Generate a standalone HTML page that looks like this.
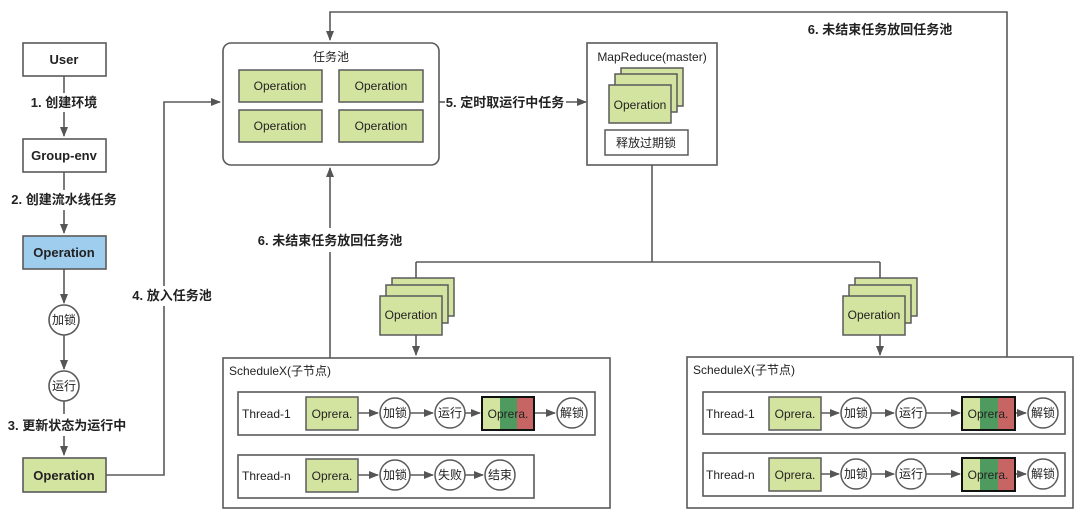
<!DOCTYPE html>
<html><head><meta charset="utf-8"><style>
html,body{margin:0;padding:0;background:#fff;width:1080px;height:512px;overflow:hidden}
svg{display:block}
text{font-family:"Liberation Sans","Noto Sans CJK SC",sans-serif;fill:#222}
.b{font-weight:bold;font-size:13px}
.n{font-size:12px}
</style></head><body>
<svg width="1080" height="512" viewBox="0 0 1080 512" xmlns="http://www.w3.org/2000/svg">
<defs>
<marker id="a" markerWidth="10" markerHeight="8" refX="9" refY="4" orient="auto" markerUnits="userSpaceOnUse">
<path d="M0,0 L10,4 L0,8 z" fill="#555"/></marker>
</defs>
<g stroke="#5a5a5a" stroke-width="1.6" fill="none">
<!-- left column -->
<line x1="64" y1="76" x2="64" y2="93"/><line x1="64" y1="112" x2="64" y2="136" marker-end="url(#a)"/>
<line x1="64" y1="172" x2="64" y2="190"/><line x1="64" y1="210" x2="64" y2="233" marker-end="url(#a)"/>
<line x1="64" y1="269" x2="64" y2="303" marker-end="url(#a)"/>
<line x1="64" y1="335" x2="64" y2="369" marker-end="url(#a)"/>
<line x1="64" y1="401" x2="64" y2="414"/><line x1="64" y1="436" x2="64" y2="455" marker-end="url(#a)"/>
<polyline points="106,475 164,475 164,306"/><polyline points="164,286 164,102 220,102" marker-end="url(#a)"/>
<!-- 5 arrow -->
<line x1="439" y1="102" x2="445" y2="102"/><line x1="566" y1="102" x2="586" y2="102" marker-end="url(#a)"/>
<!-- top loop -->
<polyline points="1007,357 1007,12 330,12 330,40" marker-end="url(#a)"/>
<!-- left up -->
<line x1="330" y1="358" x2="330" y2="252"/><line x1="330" y1="228" x2="330" y2="168" marker-end="url(#a)"/>
<!-- mapreduce down -->
<polyline points="652,165 652,262"/><line x1="416" y1="262" x2="880" y2="262"/>
<line x1="416" y1="262" x2="416" y2="284"/><line x1="880" y1="262" x2="880" y2="284"/>
<line x1="416" y1="335" x2="416" y2="355" marker-end="url(#a)"/>
<line x1="880" y1="335" x2="880" y2="355" marker-end="url(#a)"/>
</g>
<!-- left nodes -->
<g stroke="#5a5a5a" stroke-width="1.6">
<rect x="23" y="43" width="83" height="33" fill="#fff"/>
<rect x="23" y="139" width="83" height="33" fill="#fff"/>
<rect x="23" y="236" width="83" height="33" fill="#9ecdee"/>
<circle cx="64" cy="320" r="15" fill="#fff"/>
<circle cx="64" cy="386" r="15" fill="#fff"/>
<rect x="23" y="458" width="83" height="34" fill="#d3e3a0"/>
</g>
<g class="b" text-anchor="middle">
<text x="64" y="64">User</text>
<text x="64" y="160">Group-env</text>
<text x="64" y="257">Operation</text>
<text x="64" y="480">Operation</text>
<text x="64" y="107">1. 创建环境</text>
<text x="64" y="204">2. 创建流水线任务</text>
<text x="67" y="430">3. 更新状态为运行中</text>
<text x="172" y="300">4. 放入任务池</text>
<text x="505" y="107">5. 定时取运行中任务</text>
<text x="880" y="34">6. 未结束任务放回任务池</text>
<text x="330" y="245">6. 未结束任务放回任务池</text>
</g>
<g class="n" text-anchor="middle">
<text x="64" y="324">加锁</text><text x="64" y="390">运行</text>
</g>
<!-- task pool -->
<rect x="223" y="43" width="216" height="122" rx="8" fill="#fff" stroke="#5a5a5a" stroke-width="1.6"/>
<text x="331" y="61" class="n" text-anchor="middle">任务池</text>
<g stroke="#5a5a5a" stroke-width="1.5" fill="#d3e3a0">
<rect x="239" y="70" width="83" height="32"/><rect x="339" y="70" width="84" height="32"/>
<rect x="239" y="110" width="83" height="32"/><rect x="339" y="110" width="84" height="32"/>
</g>
<g class="n" text-anchor="middle">
<text x="280" y="90">Operation</text><text x="381" y="90">Operation</text>
<text x="280" y="130">Operation</text><text x="381" y="130">Operation</text>
</g>
<!-- mapreduce -->
<rect x="587" y="43" width="130" height="122" fill="#fff" stroke="#5a5a5a" stroke-width="1.6"/>
<text x="652" y="61" class="n" text-anchor="middle">MapReduce(master)</text>
<g stroke="#5a5a5a" stroke-width="1.5" fill="#d3e3a0">
<rect x="621" y="68" width="62" height="38"/><rect x="615" y="74" width="62" height="38"/><rect x="609" y="85" width="62" height="38"/>
<rect x="605" y="130" width="83" height="25" fill="#fff"/>
</g>
<text x="640" y="109" class="n" text-anchor="middle">Operation</text>
<text x="646" y="147" class="n" text-anchor="middle">释放过期锁</text>
<!-- stacks -->
<g stroke="#5a5a5a" stroke-width="1.5" fill="#d3e3a0">
<rect x="392" y="278" width="62" height="38"/><rect x="386" y="285" width="62" height="38"/><rect x="380" y="296" width="62" height="39"/>
<rect x="855" y="278" width="62" height="38"/><rect x="849" y="285" width="62" height="38"/><rect x="843" y="296" width="62" height="39"/>
</g>
<text x="411" y="319" class="n" text-anchor="middle">Operation</text>
<text x="874" y="319" class="n" text-anchor="middle">Operation</text>
<!-- ScheduleX left -->
<g stroke="#5a5a5a" stroke-width="1.6" fill="#fff">
<rect x="223" y="358" width="387" height="150"/>
<rect x="238" y="392" width="357" height="43"/>
<rect x="238" y="455" width="296" height="43"/>
<rect x="687" y="357" width="386" height="151"/>
<rect x="703" y="392" width="362" height="42"/>
<rect x="703" y="453" width="362" height="43"/>
</g>
<text x="229" y="375" class="n">ScheduleX(子节点)</text>
<text x="693" y="374" class="n">ScheduleX(子节点)</text>
<g class="n"><text x="242" y="418">Thread-1</text><text x="242" y="480">Thread-n</text>
<text x="706" y="418">Thread-1</text><text x="706" y="479">Thread-n</text></g>
<g stroke="#5a5a5a" stroke-width="1.5" fill="none">
<line x1="358" y1="413" x2="378" y2="413" marker-end="url(#a)"/>
<line x1="410" y1="413" x2="433" y2="413" marker-end="url(#a)"/>
<line x1="465" y1="413" x2="480" y2="413" marker-end="url(#a)"/>
<line x1="534" y1="413" x2="555" y2="413" marker-end="url(#a)"/>
<line x1="358" y1="475" x2="378" y2="475" marker-end="url(#a)"/>
<line x1="410" y1="475" x2="433" y2="475" marker-end="url(#a)"/>
<line x1="465" y1="475" x2="483" y2="475" marker-end="url(#a)"/>
<line x1="821" y1="413" x2="839" y2="413" marker-end="url(#a)"/>
<line x1="871" y1="413" x2="894" y2="413" marker-end="url(#a)"/>
<line x1="926" y1="413" x2="960" y2="413" marker-end="url(#a)"/>
<line x1="1015" y1="413" x2="1026" y2="413" marker-end="url(#a)"/>
<line x1="821" y1="474" x2="839" y2="474" marker-end="url(#a)"/>
<line x1="871" y1="474" x2="894" y2="474" marker-end="url(#a)"/>
<line x1="926" y1="474" x2="960" y2="474" marker-end="url(#a)"/>
<line x1="1015" y1="474" x2="1026" y2="474" marker-end="url(#a)"/>
</g>
<g stroke="#5a5a5a" stroke-width="1.5" fill="#d3e3a0">
<rect x="306" y="397" width="52" height="33"/><rect x="306" y="459" width="52" height="33"/>
<rect x="769" y="397" width="52" height="33"/><rect x="769" y="458" width="52" height="33"/>
</g>
<g stroke="#5a5a5a" stroke-width="1.5" fill="#fff">
<circle cx="395" cy="413" r="15"/><circle cx="450" cy="413" r="15"/><circle cx="572" cy="413" r="15"/>
<circle cx="395" cy="475" r="15"/><circle cx="450" cy="475" r="15"/><circle cx="500" cy="475" r="15"/>
<circle cx="856" cy="413" r="15"/><circle cx="911" cy="413" r="15"/><circle cx="1043" cy="413" r="15"/>
<circle cx="856" cy="474" r="15"/><circle cx="911" cy="474" r="15"/><circle cx="1043" cy="474" r="15"/>
</g>
<!-- multi color boxes -->
<g>
<rect x="482" y="397" width="18" height="33" fill="#d3e3a0"/><rect x="500" y="397" width="17" height="33" fill="#4f9a5e"/><rect x="517" y="397" width="17" height="33" fill="#c76464"/>
<rect x="482" y="397" width="52" height="33" fill="none" stroke="#111" stroke-width="2"/>
<rect x="962" y="397" width="18" height="33" fill="#d3e3a0"/><rect x="980" y="397" width="18" height="33" fill="#4f9a5e"/><rect x="998" y="397" width="17" height="33" fill="#c76464"/>
<rect x="962" y="397" width="53" height="33" fill="none" stroke="#111" stroke-width="2"/>
<rect x="962" y="458" width="18" height="33" fill="#d3e3a0"/><rect x="980" y="458" width="18" height="33" fill="#4f9a5e"/><rect x="998" y="458" width="17" height="33" fill="#c76464"/>
<rect x="962" y="458" width="53" height="33" fill="none" stroke="#111" stroke-width="2"/>
</g>
<g class="n" text-anchor="middle">
<text x="332" y="418">Oprera.</text><text x="332" y="480">Oprera.</text>
<text x="795" y="418">Oprera.</text><text x="795" y="479">Oprera.</text>
<text x="508" y="418">Oprera.</text><text x="988" y="418">Oprera.</text><text x="988" y="479">Oprera.</text>
<text x="395" y="417">加锁</text><text x="450" y="417">运行</text><text x="572" y="417">解锁</text>
<text x="395" y="479">加锁</text><text x="450" y="479">失败</text><text x="500" y="479">结束</text>
<text x="856" y="417">加锁</text><text x="911" y="417">运行</text><text x="1043" y="417">解锁</text>
<text x="856" y="478">加锁</text><text x="911" y="478">运行</text><text x="1043" y="478">解锁</text>
</g>
</svg>
</body></html>
